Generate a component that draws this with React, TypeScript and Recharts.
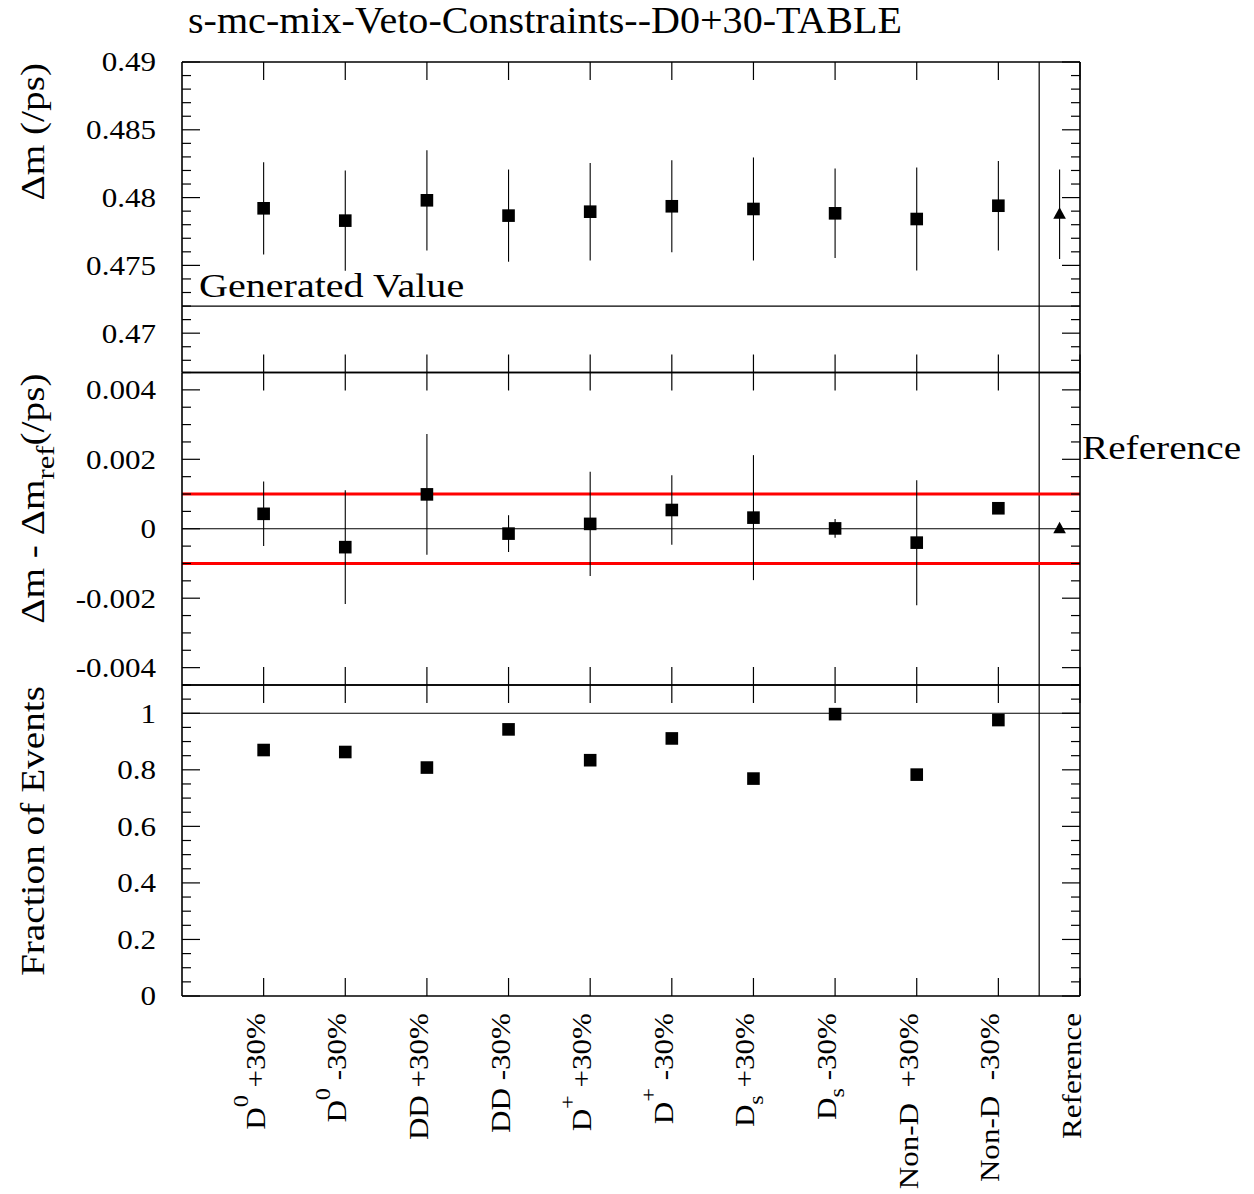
import React from 'react'
import { ComposedChart, Scatter, ErrorBar, XAxis, YAxis, ReferenceLine } from 'recharts'

// ---- values ----
const categories = [
    'D^0 +30%', 'D^0 -30%', 'DD +30%', 'DD -30%', 'D^+ +30%', 'D^+ -30%',
    'D_s +30%', 'D_s -30%', 'Non-D  +30%', 'Non-D  -30%', 'Reference'
]
const categoryX = [1, 2, 3, 4, 5, 6, 7, 8, 9, 10, 11]

const deltaM = [0.47921, 0.4783, 0.4798, 0.47867, 0.47896, 0.47936, 0.47916, 0.47884, 0.47842, 0.4794]
const deltaMErr = [0.0034, 0.0037, 0.0037, 0.0034, 0.0036, 0.0034, 0.0038, 0.0033, 0.0038, 0.0033]
const deltaMDiff = [0.00043, -0.00053, 0.00099, -0.00014, 0.00014, 0.00054, 0.00032, 0.00001, -0.0004, 0.00059]
const deltaMDiffErr = [0.00093, 0.00164, 0.00174, 0.00053, 0.0015, 0.001, 0.0018, 0.00027, 0.0018, 0.0001]
const eventFraction = [0.87, 0.863, 0.808, 0.943, 0.834, 0.911, 0.769, 0.997, 0.783, 0.976]

const refX = 10.75
const refDeltaM = 0.47877
const refDeltaMErr = 0.0033
const refDiff = 0

const generatedValue = 0.472
const diffBand = [-0.001, 0.001]
const refDivider = 10.5

// ---- layout ----
const W = 1254
const H = 1194
const FRAME_L = 182
const FRAME_R = 1080
const AX = 10
const FONT = '"Liberation Serif", "Times New Roman", serif'
const BIG = 33
const BIG_STRETCH = 1.19
const SMALL = 27.5
const SMALL_STRETCH = 1.13
const frame = { stroke: '#000', strokeWidth: 1.6 }

// tick positions incl. minors (axis furniture, not data)
function steps(from: number, to: number, step: number): number[] {
    const out: number[] = []
    const n = Math.round((to - from) / step)
    for (let i = 0; i <= n; i++) out.push(+(from + i * step).toFixed(6))
    return out
}

const fmt = (v: number) => String(+v.toFixed(6))

// ROOT-like text: ^x / _x or ^{..} / _{..}
function Rich({ text, size }: { text: string; size: number }) {
    const m = text.match(/^(.*?)([\^_])(\{[^}]*\}|\S)(.*)$/)
    if (!m) return <>{text}</>
    const [, pre, mark, raw, post] = m
    const ch = raw.replace(/[{}]/g, '')
    const shift = mark === '^' ? -0.6 * size : 0.3 * size
    return (
        <>
            <tspan>{pre}</tspan>
            <tspan dy={shift} fontSize={size * 0.78}>{ch}</tspan>
            <tspan dy={-shift} fontSize={size}>{post}</tspan>
        </>
    )
}

function makeYTick(dir: 1 | -1, majorStep: number, withLabels: boolean) {
    return (props: any) => {
        const { x, y, payload } = props
        const v = payload.value as number
        const major = Math.abs(v / majorStep - Math.round(v / majorStep)) < 1e-6
        const len = major ? 18 : 9
        return (
            <g>
                <line x1={x} x2={x + dir * len} y1={y} y2={y} stroke="#000" strokeWidth={1.2} />
                {withLabels && major && (
                    <text
                        transform={`translate(${x - 26},${y}) scale(${SMALL_STRETCH},1)`}
                        textAnchor="end"
                        dominantBaseline="central"
                        fontSize={SMALL}
                        fontFamily={FONT}
                        fill="#000"
                    >
                        {fmt(v)}
                    </text>
                )}
            </g>
        )
    }
}

function makeXTick(dir: 1 | -1, withLabels: boolean) {
    return (props: any) => {
        const { x, y, index } = props
        return (
            <g>
                <line x1={x} x2={x} y1={y} y2={y + dir * 18} stroke="#000" strokeWidth={1.2} />
                {withLabels && (
                    <text
                        transform={`translate(${x + 1},${y + 17}) rotate(-90) scale(${SMALL_STRETCH},1)`}
                        textAnchor="end"
                        fontSize={SMALL}
                        fontFamily={FONT}
                        fill="#000"
                        style={{ whiteSpace: 'pre' }}
                    >
                        <Rich text={categories[index]} size={SMALL} />
                    </text>
                )}
            </g>
        )
    }
}

const Square = (p: any) => <rect x={p.cx - 6.3} y={p.cy - 6.3} width={12.6} height={12.6} fill="#000" />
const Triangle = (p: any) => (
    <path d={`M${p.cx},${p.cy - 7} L${p.cx + 6.3},${p.cy + 4.5} L${p.cx - 6.3},${p.cy + 4.5} Z`} fill="#000" />
)

interface PanelProps {
    top: number
    bottom: number
    domain: [number, number]
    ticks: number[]
    majorStep: number
    title: string
    labels?: boolean
    children: React.ReactNode
}

function Panel({ top, bottom, domain, ticks, majorStep, title, labels, children }: PanelProps) {
    const axisTitle = () => (
        <text
            transform={`translate(44,${top + 1}) rotate(-90) scale(${BIG_STRETCH},1)`}
            textAnchor="end"
            fontSize={BIG}
            fontFamily={FONT}
            fill="#000"
        >
            <Rich text={title} size={BIG} />
        </text>
    )
    return (
        <div style={{ position: 'absolute', left: 0, top: 0, width: W, height: H }}>
            <ComposedChart
                width={W}
                height={H}
                margin={{ top: top - AX, bottom: H - bottom - AX, left: FRAME_L - AX, right: W - FRAME_R - AX }}
            >
                <XAxis xAxisId="b" dataKey="x" type="number" domain={[0, 11]} ticks={categoryX} interval={0}
                    height={AX} tickSize={0} tickMargin={0} tickLine={false} axisLine={frame}
                    tick={makeXTick(-1, !!labels)} allowDataOverflow />
                <XAxis xAxisId="t" dataKey="x" type="number" orientation="top" domain={[0, 11]} ticks={categoryX} interval={0}
                    height={AX} tickSize={0} tickMargin={0} tickLine={false} axisLine={frame}
                    tick={makeXTick(1, false)} allowDataOverflow />
                <YAxis yAxisId="l" type="number" domain={domain} ticks={ticks} interval={0}
                    width={AX} tickSize={0} tickMargin={0} tickLine={false} axisLine={frame}
                    tick={makeYTick(1, majorStep, true)} allowDataOverflow label={axisTitle} />
                <YAxis yAxisId="r" type="number" orientation="right" domain={domain} ticks={ticks} interval={0}
                    width={AX} tickSize={0} tickMargin={0} tickLine={false} axisLine={frame}
                    tick={makeYTick(-1, majorStep, false)} allowDataOverflow />
                <ReferenceLine xAxisId="b" yAxisId="l" x={refDivider} stroke="#000" strokeWidth={1.2} />
                {children}
            </ComposedChart>
        </div>
    )
}

const topRows = deltaM.map((y, i) => ({ x: categoryX[i], y, err: deltaMErr[i] }))
const midRows = deltaMDiff.map((y, i) => ({ x: categoryX[i], y, err: deltaMDiffErr[i] }))
const botRows = eventFraction.map((y, i) => ({ x: categoryX[i], y }))

const GeneratedLabel = (p: any) => (
    <text
        transform={`translate(${p.viewBox.x + 17},${p.viewBox.y - 9}) scale(1.215,1)`}
        fontSize={BIG}
        fontFamily={FONT}
        fill="#000"
    >
        Generated Value
    </text>
)

export default function App() {
    return (
        <div style={{ position: 'absolute', left: 0, top: 0, width: W, height: H, background: '#fff' }}>
            <Panel top={62} bottom={372.5} domain={[0.4671, 0.49]} ticks={steps(0.468, 0.49, 0.001)}
                majorStep={0.005} title="Δm (/ps)">
                <ReferenceLine xAxisId="b" yAxisId="l" y={generatedValue} stroke="#000" strokeWidth={1.2}
                    label={GeneratedLabel} />
                <Scatter xAxisId="b" yAxisId="l" data={topRows} dataKey="y" shape={Square} isAnimationActive={false}>
                    <ErrorBar dataKey="err" direction="y" width={0} stroke="#000" strokeWidth={1.1} isAnimationActive={false} />
                </Scatter>
                <Scatter xAxisId="b" yAxisId="l" data={[{ x: refX, y: refDeltaM, err: refDeltaMErr }]} dataKey="y"
                    shape={Triangle} isAnimationActive={false}>
                    <ErrorBar dataKey="err" direction="y" width={0} stroke="#000" strokeWidth={1.1} isAnimationActive={false} />
                </Scatter>
            </Panel>

            <Panel top={372.5} bottom={685} domain={[-0.0045, 0.0045]} ticks={steps(-0.0045, 0.0045, 0.0005)}
                majorStep={0.002} title="Δm - Δm_{ref}(/ps)">
                <ReferenceLine xAxisId="b" yAxisId="l" y={0} stroke="#000" strokeWidth={1.2} />
                {diffBand.map(v => (
                    <ReferenceLine key={v} xAxisId="b" yAxisId="l" y={v} stroke="#ff0000" strokeWidth={3} />
                ))}
                <Scatter xAxisId="b" yAxisId="l" data={midRows} dataKey="y" shape={Square} isAnimationActive={false}>
                    <ErrorBar dataKey="err" direction="y" width={0} stroke="#000" strokeWidth={1.1} isAnimationActive={false} />
                </Scatter>
                <Scatter xAxisId="b" yAxisId="l" data={[{ x: refX, y: refDiff }]} dataKey="y"
                    shape={Triangle} isAnimationActive={false} />
            </Panel>

            <Panel top={685} bottom={996} domain={[0, 1.1]} ticks={steps(0, 1.1, 0.05)}
                majorStep={0.2} title="Fraction of Events" labels>
                <ReferenceLine xAxisId="b" yAxisId="l" y={1} stroke="#000" strokeWidth={1.2} />
                <Scatter xAxisId="b" yAxisId="l" data={botRows} dataKey="y" shape={Square} isAnimationActive={false} />
            </Panel>

            <svg width={W} height={H} style={{ position: 'absolute', left: 0, top: 0, pointerEvents: 'none' }}>
                <text transform="translate(188,33) scale(1.055,1)" fontSize={38} fontFamily={FONT} fill="#000">
                    s-mc-mix-Veto-Constraints--D0+30-TABLE
                </text>
                <text transform={`translate(1082,459) scale(${BIG_STRETCH},1)`} fontSize={BIG} fontFamily={FONT} fill="#000">
                    Reference
                </text>
            </svg>
        </div>
    )
}
